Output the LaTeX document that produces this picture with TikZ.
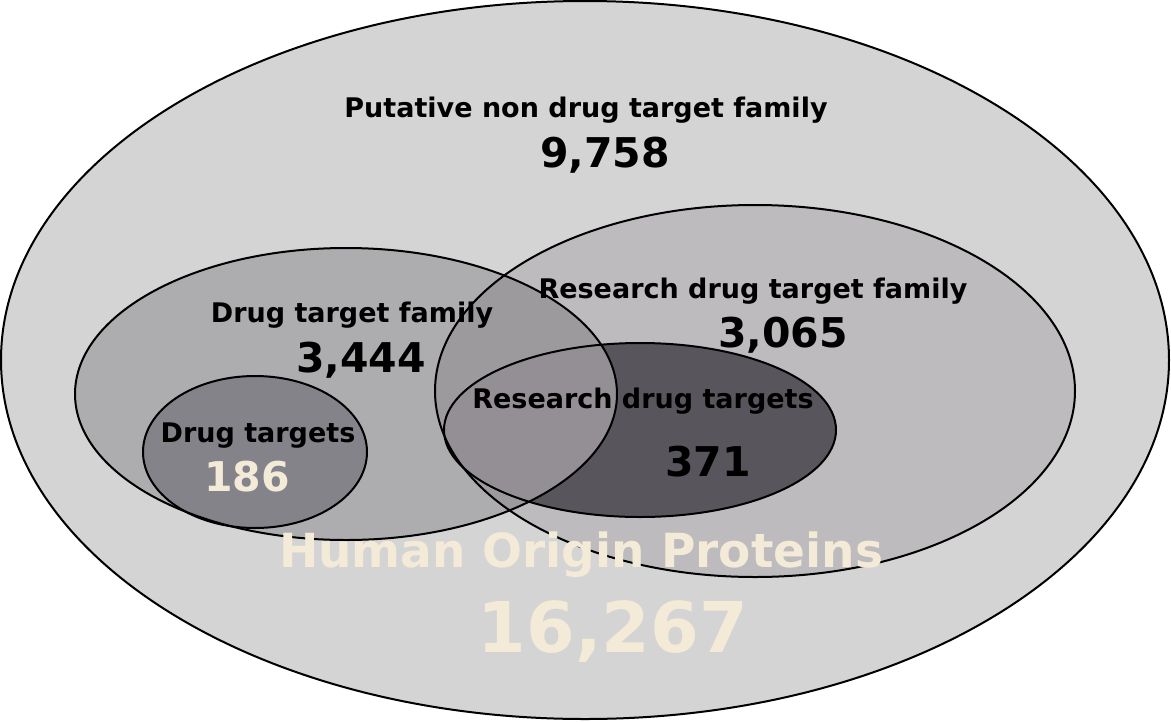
\documentclass[tikz,border=0pt]{standalone}
\usepackage{fontspec}
\setmainfont{DejaVu Sans}
\definecolor{cOuter}{HTML}{D4D4D4}
\definecolor{cRDTF}{HTML}{BDBBBD}
\definecolor{cDTF}{HTML}{ADACAE}
\definecolor{cOver}{HTML}{9D9A9E}
\definecolor{cRDT}{HTML}{58565C}
\definecolor{cRDTin}{HTML}{948F94}
\definecolor{cDT}{HTML}{85838A}
\definecolor{cCream}{HTML}{F3EAD7}
\tikzset{
  ring/.style={draw=black, line width=2pt},
  lbl/.style={font=\bfseries\fontsize{27}{31}\selectfont, anchor=base, inner sep=0pt},
  num/.style={font=\bfseries\fontsize{41}{46}\selectfont, anchor=base, inner sep=0pt},
}
\begin{document}
\begin{tikzpicture}[x=1pt,y=-1pt]
\useasboundingbox (0,0) rectangle (1171,721);
% geometry
\def\outer{(585,360) ellipse [x radius=584, y radius=359]}
\def\rdtf{(755,391) ellipse [x radius=320, y radius=186]}
\def\dtf{(346,394) ellipse [x radius=271, y radius=146]}
\def\rdt{(640,430) ellipse [x radius=196, y radius=87]}
\def\dt{(255,452) ellipse [x radius=112, y radius=76]}
% fills
\fill[cOuter] \outer;
\fill[cRDTF] \rdtf;
\fill[cDTF] \dtf;
\begin{scope}
  \clip \dtf;
  \fill[cOver] \rdtf;
\end{scope}
\fill[cRDT] \rdt;
\begin{scope}
  \clip \dtf;
  \fill[cRDTin] \rdt;
\end{scope}
\fill[cDT] \dt;
% outlines
\draw[ring] \outer;
\draw[ring] \rdtf;
\draw[ring] \dtf;
\draw[ring] \rdt;
\draw[ring] \dt;
% labels
\node[lbl] (putl) at (586,117) {Putative non drug target family};
\node[num] (putn) at (605,167) {9,758};
\node[lbl] (rdtfl) at (753,298) {Research drug target family};
\node[num] (rdtfn) at (783,347) {3,065};
\node[lbl] (dtfl) at (352,322) {Drug target family};
\node[num] (dtfn) at (361,372) {3,444};
\node[lbl] (rdtl) at (643,408) {Research drug targets};
\node[num] (rdtn) at (708,476) {371};
\node[lbl] (dtl) at (258,442) {Drug targets};
\node[num, text=cCream] (dtn) at (247,491) {186};
\node[font=\bfseries\fontsize{47}{52}\selectfont, anchor=base, inner sep=0pt, text=cCream] (hopl) at (581,567) {Human Origin Proteins};
\node[font=\bfseries\fontsize{70}{76}\selectfont, anchor=base, inner sep=0pt, text=cCream] (hopn) at (613,652) {16,267};
\end{tikzpicture}
\end{document}
